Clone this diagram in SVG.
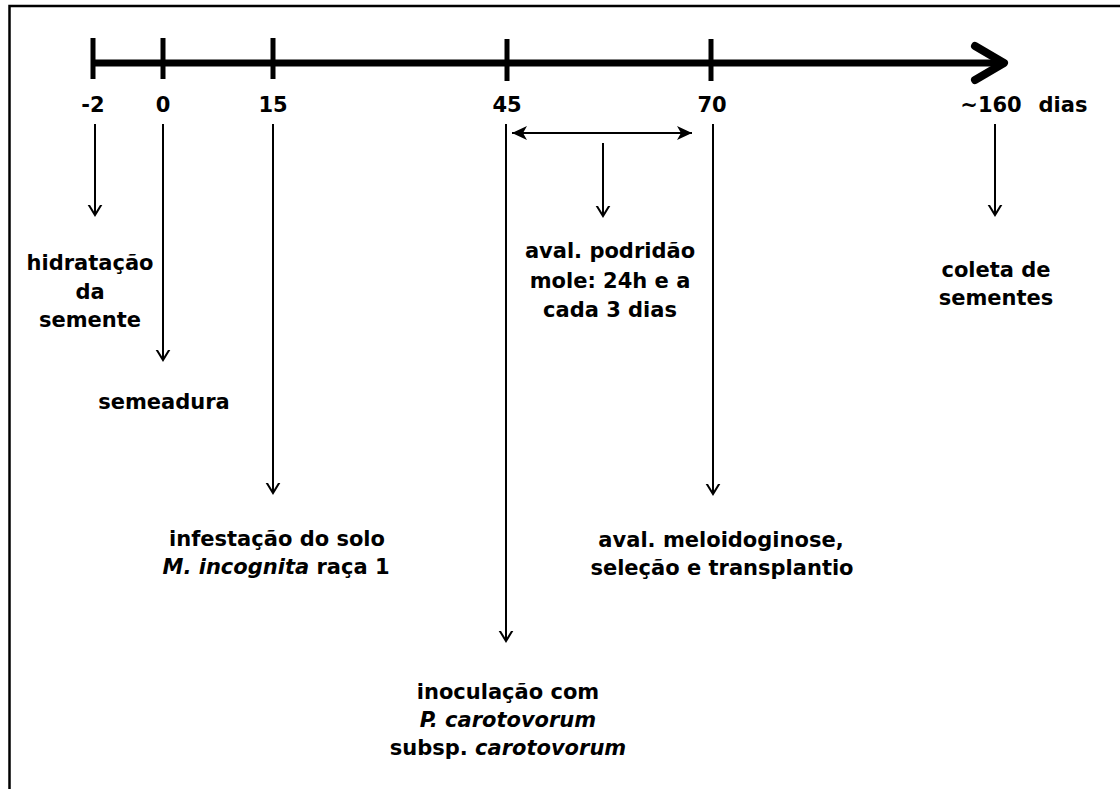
<svg xmlns="http://www.w3.org/2000/svg" width="1120" height="789" viewBox="0 0 1120 789">
<defs>
<style>
text{font-family:"DejaVu Sans","Liberation Sans",sans-serif;font-weight:bold;font-size:21px;fill:#000;text-anchor:middle}
.it{font-style:italic}
.ax{stroke:#000;stroke-width:7;fill:none}
.tk{stroke:#000;stroke-width:5}
.ar{stroke:#000;stroke-width:2;fill:none;marker-end:url(#v)}
</style>
<marker id="v" markerUnits="userSpaceOnUse" viewBox="-10 -10 20 20" markerWidth="20" markerHeight="20" refX="0" refY="0" orient="auto">
<path d="M-13,-8 L0,0 L-13,8" fill="none" stroke="#000" stroke-width="2"/>
</marker>
<marker id="h" markerUnits="userSpaceOnUse" viewBox="-16 -10 20 20" markerWidth="20" markerHeight="20" refX="0" refY="0" orient="auto-start-reverse">
<path d="M0,0 L-15,-7 L-11,0 L-15,7 Z" fill="#000"/>
</marker>
</defs>
<rect x="9.5" y="6" width="1200" height="900" fill="#fff" stroke="#000" stroke-width="2.5"/>
<g id="connectors">
<line class="ax" x1="93" y1="63" x2="1003" y2="63"/>
<polyline points="975,46 1004,63 975,80" stroke="#000" stroke-width="8" fill="none" stroke-linecap="round" stroke-linejoin="round"/>
<line class="tk" x1="93" y1="38" x2="93" y2="79"/>
<line class="tk" x1="163" y1="38" x2="163" y2="79"/>
<line class="tk" x1="273" y1="38" x2="273" y2="79"/>
<line class="tk" x1="507" y1="39" x2="507" y2="81"/>
<line class="tk" x1="711" y1="39" x2="711" y2="81"/>
<line class="ar" x1="95" y1="124" x2="95" y2="215"/>
<line class="ar" x1="163" y1="124" x2="163" y2="360"/>
<line class="ar" x1="273" y1="124" x2="273" y2="493"/>
<line class="ar" x1="506" y1="124" x2="506" y2="641"/>
<line class="ar" x1="713" y1="124" x2="713" y2="494"/>
<line class="ar" x1="995" y1="124" x2="995" y2="215"/>
<line class="ar" x1="603" y1="143" x2="603" y2="216"/>
<line x1="512" y1="133" x2="692" y2="133" stroke="#000" stroke-width="2" marker-start="url(#h)" marker-end="url(#h)"/>
</g>
<g id="ticks-labels">
<text x="93" y="112">-2</text>
<text x="163" y="112">0</text>
<text x="273" y="112">15</text>
<text x="507" y="112">45</text>
<text x="712" y="112">70</text>
<text x="991" y="112">~160</text>
<text x="1063" y="112">dias</text>
</g>
<g id="n-hidratacao">
<text x="90" y="270">hidratação</text>
<text x="90" y="299">da</text>
<text x="90" y="327">semente</text>
</g>
<g id="n-semeadura"><text x="164" y="409">semeadura</text></g>
<g id="n-infestacao">
<text x="277" y="546">infestação do solo</text>
<text x="276" y="574"><tspan class="it">M. incognita</tspan> raça 1</text>
</g>
<g id="n-inoculacao">
<text x="508" y="699">inoculação com</text>
<text x="508" y="727" class="it">P. carotovorum</text>
<text x="508" y="755">subsp. <tspan class="it">carotovorum</tspan></text>
</g>
<g id="n-podridao">
<text x="610" y="258">aval. podridão</text>
<text x="610" y="288">mole: 24h e a</text>
<text x="610" y="317">cada 3 dias</text>
</g>
<g id="n-meloidoginose">
<text x="721" y="547">aval. meloidoginose,</text>
<text x="722" y="575">seleção e transplantio</text>
</g>
<g id="n-coleta">
<text x="996" y="277">coleta de</text>
<text x="996" y="305">sementes</text>
</g>
</svg>
